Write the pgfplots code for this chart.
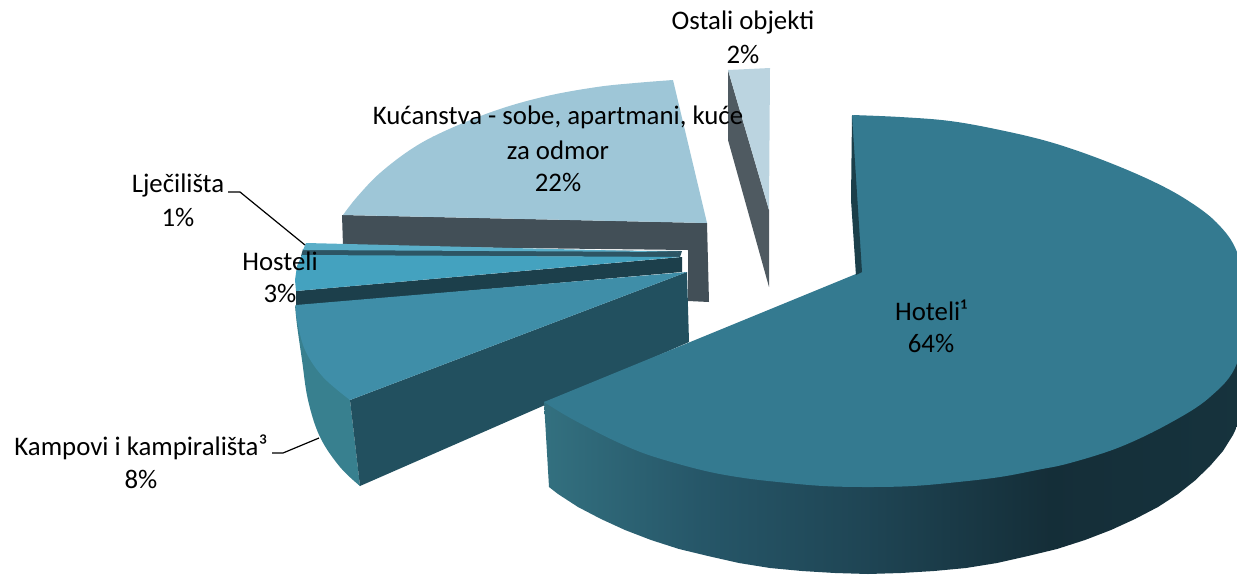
\documentclass[border=0pt]{standalone}
\usepackage{pgfplots}
\pgfplotsset{compat=1.18}
\usepackage{fontspec}
\setmainfont{Carlito}
\definecolor{hot}{HTML}{347A90}
\definecolor{hotd}{HTML}{1B3F4A}
\definecolor{kamp}{HTML}{3F8EA8}
\definecolor{kampd}{HTML}{22505F}
\definecolor{kamps}{HTML}{38808F}
\definecolor{host}{HTML}{44A2BF}
\definecolor{hostd}{HTML}{1C3F4B}
\definecolor{lje}{HTML}{5AAEC8}
\definecolor{ljed}{HTML}{2D5564}
\definecolor{kuc}{HTML}{9EC6D7}
\definecolor{kucd}{HTML}{424F57}
\definecolor{ost}{HTML}{BBD4E0}
\definecolor{ostd}{HTML}{4F5A61}
\pgfdeclarehorizontalshading{hotside}{100bp}{
 rgb(0bp)=(0.20,0.44,0.50);
 rgb(25bp)=(0.20,0.44,0.50);
 rgb(36bp)=(0.15,0.34,0.41);
 rgb(48bp)=(0.12,0.27,0.33);
 rgb(61bp)=(0.08,0.18,0.22);
 rgb(75bp)=(0.086,0.20,0.24);
 rgb(100bp)=(0.086,0.20,0.24)}
\begin{document}
\begin{tikzpicture}
\path[use as bounding box] (0,0) rectangle (1237pt,574pt);
\begin{axis}[
  at={(0,0)},anchor=south west,
  width=1237pt,height=574pt,scale only axis,
  xmin=0,xmax=1237,ymin=0,ymax=574,y dir=reverse,
  hide axis,clip=true]
% Ostali objekti
\addplot[fill=ostd,draw=none] coordinates {(728,70)(769,210)(769,287)(728,140)};
\addplot[fill=ost,draw=none] coordinates {(728,70)(770,68)(769,210)};
% Kucanstva
\addplot[fill=kucd,draw=none] coordinates {(342,215)(707,223)(709,302)(688,301)(688,250)(343,246)};
\addplot[fill=kuc,draw=none,smooth,tension=0.6] coordinates {(343,215)(357,197)(380,173)(413,148)(447,130)(497,110)(547,96)(597,87)(635,83)(673,80)};
\addplot[fill=kuc,draw=none] coordinates {(343,215)(500,125)(673,80)(707,223)};
% Ljecilista
\addplot[fill=ljed,draw=none] coordinates {(303,249)(682,251)(680,257)(301,256)};
\addplot[fill=lje,draw=none] coordinates {(306,243)(678,252)(303,250)};
% Hosteli
\addplot[fill=hostd,draw=none] coordinates {(296,291)(682,257)(682,272)(296,306)};
\addplot[fill=host,draw=none] coordinates {(296,291)(295,280)(297,266)(302,255)(680,257)};
% Kampovi
\addplot[fill=kamps,draw=none,smooth,tension=0.6] coordinates {(295,305)(297,325)(302,360)(308,400)(320,437)(340,467)(360,486)};
\addplot[fill=kamps,draw=none] coordinates {(295,305)(320,430)(360,486)(350,400)};
\addplot[fill=kampd,draw=none] coordinates {(687,272)(689,342)(360,486)(350,400)};
\addplot[fill=kamp,draw=none,smooth,tension=0.6] coordinates {(296,305)(297,320)(305,350)(323,377)(350,400)};
\addplot[fill=kamp,draw=none] coordinates {(687,272)(296,305)(310,345)(350,400)};
% Hoteli side (upper edge lies under the top face)
\addplot[shading=hotside,draw=none] coordinates {(544,402)(549,487)(558,494)(578,507)(601,519)(625,530)(651,540)(679,549)(708,556)(739,563)(770,568)(802,571)(835,573)(868,574)(901,573)(934,571)(966,568)(997,563)(1028,556)(1057,549)(1085,540)(1111,530)(1135,519)(1158,507)(1178,494)(1195,480.5)(1210,466)(1223,451)(1233,435)(1240,420)(1245,403)(1246,387)(1246,330)};
% Hoteli top
\addplot[fill=hot,draw=none,smooth,tension=0.6] coordinates {(852,115)(900,117)(950,121)(1000,130)(1050,142)(1100,159)(1150,180)(1187,200)(1217,223)(1237,252)(1247,300)};
\addplot[fill=hot,draw=none,smooth,tension=0.6] coordinates {(1247,300)(1237,363)(1210,397)(1170,423)(1120,447)(1070,463)(1037,470)(1000,477)(958,482)(913,486)(868,487)(823,486)(778,482)(744,478)(710,472)(675,463)(643,453)(615,441)(589,428)(565,415)(544,402)};
\addplot[fill=hot,draw=none] coordinates {(852,115)(1050,190)(1247,300)(900,400)(544,402)(856,274)};
\addplot[fill=hotd,draw=none] coordinates {(852,115)(851,200)(856,275)(862,272)};
% leader lines
\addplot[black,line width=1.2pt] coordinates {(228,192)(240,192)(305,245)};
\addplot[black,line width=1.2pt] coordinates {(272,453)(283,453)(319,438)};
% labels
\begin{scope}[every node/.style={font=\fontsize{26.8}{30}\selectfont,inner sep=0pt,anchor=center}]
\node at (axis cs:743,22) {Ostali objekti};
\node at (axis cs:743,54) {2\%};
\node at (axis cs:558,117) {Kućanstva - sobe, apartmani, kuće};
\node at (axis cs:558,150) {za odmor};
\node at (axis cs:558,182) {22\%};
\node at (axis cs:178,185) {Lječilišta};
\node at (axis cs:178,217) {1\%};
\node at (axis cs:280,261) {Hosteli};
\node at (axis cs:280,293) {3\%};
\node at (axis cs:931,310) {Hoteli¹};
\node at (axis cs:931,343) {64\%};
\node at (axis cs:141,447) {Kampovi i kampirališta³};
\node at (axis cs:141,479) {8\%};
\end{scope}
\end{axis}
\end{tikzpicture}
\end{document}
